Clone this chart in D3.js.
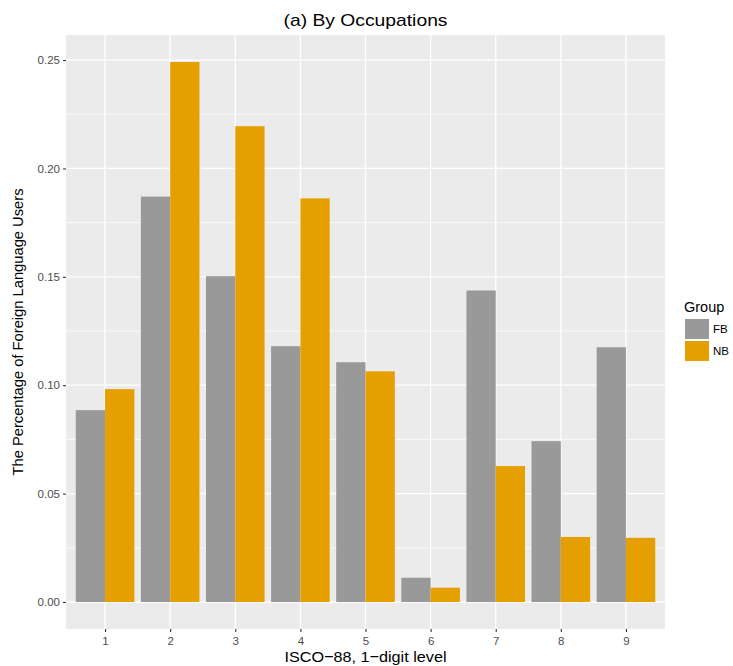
<!DOCTYPE html>
<html>
<head>
<meta charset="utf-8">
<script src="https://cdn.jsdelivr.net/npm/d3@7"></script>
<style>
  html, body { margin: 0; padding: 0; background: #ffffff; }
  svg { display: block; font-family: "Liberation Sans", Arial, Helvetica, sans-serif; }
</style>
</head>
<body>
<svg id="chart" width="733" height="666"></svg>
<script>
// Share of foreign language users by ISCO-88 major group
const occupations = ["1", "2", "3", "4", "5", "6", "7", "8", "9"];
const groups = ["FB", "NB"];
const fbValues = [0.0885, 0.187, 0.1503, 0.118, 0.1106, 0.0112, 0.1437, 0.0742, 0.1175];
const nbValues = [0.0982, 0.2491, 0.2195, 0.1862, 0.1064, 0.0066, 0.0627, 0.0300, 0.0296];
const yTicks = [0, 0.05, 0.10, 0.15, 0.20, 0.25];
const yMinor = [0.025, 0.075, 0.125, 0.175, 0.225];
const groupColors = ["#999999", "#E69F00"];

const svg = d3.select("#chart");
const panel = { left: 66, right: 665, top: 35, bottom: 629 };

const rows = occupations.map((occ, i) => ({ occ, values: [fbValues[i], nbValues[i]] }));

// discrete x scale with 0.6 unit padding on each side
const x = d3.scalePoint()
  .domain(occupations)
  .range([panel.left, panel.right])
  .padding(0.6);
const step = x.step();
const barGroupWidth = step * 0.9;
const xInner = d3.scaleBand().domain(groups).range([-barGroupWidth / 2, barGroupWidth / 2]).padding(0);

const yMax = d3.max(nbValues.concat(fbValues));
const pad = yMax * 0.05;
const y = d3.scaleLinear().domain([-pad, yMax + pad]).range([panel.bottom, panel.top]);

const color = d3.scaleOrdinal().domain(groups).range(groupColors);

// panel background
svg.append("rect")
  .attr("x", panel.left).attr("y", panel.top)
  .attr("width", panel.right - panel.left).attr("height", panel.bottom - panel.top)
  .attr("fill", "#EBEBEB");

// minor grid
svg.append("g").selectAll("line").data(yMinor).join("line")
  .attr("x1", panel.left).attr("x2", panel.right)
  .attr("y1", d => y(d)).attr("y2", d => y(d))
  .attr("stroke", "#ffffff").attr("stroke-width", 0.7);

// major grid
svg.append("g").selectAll("line").data(yTicks).join("line")
  .attr("x1", panel.left).attr("x2", panel.right)
  .attr("y1", d => y(d)).attr("y2", d => y(d))
  .attr("stroke", "#ffffff").attr("stroke-width", 1.3);

svg.append("g").selectAll("line").data(occupations).join("line")
  .attr("x1", d => x(d)).attr("x2", d => x(d))
  .attr("y1", panel.top).attr("y2", panel.bottom)
  .attr("stroke", "#ffffff").attr("stroke-width", 1.3);

// bars
svg.append("g").selectAll("g").data(rows).join("g")
  .attr("transform", d => `translate(${x(d.occ)},0)`)
  .selectAll("rect")
  .data(d => groups.map((g, j) => ({ g, v: d.values[j] })))
  .join("rect")
  .attr("x", d => xInner(d.g))
  .attr("width", xInner.bandwidth())
  .attr("y", d => y(d.v))
  .attr("height", d => y(0) - y(d.v))
  .attr("fill", d => color(d.g));

// axes
const yAxis = d3.axisLeft(y).tickValues(yTicks).tickFormat(d3.format(".2f")).tickSize(3).tickPadding(3);
const gy = svg.append("g").attr("transform", `translate(${panel.left},0)`).call(yAxis);
gy.select(".domain").remove();
gy.selectAll(".tick line").attr("stroke", "#333333").attr("stroke-width", 1.1);
gy.selectAll(".tick text").attr("fill", "#4D4D4D").attr("font-size", 11.5)
  .attr("font-family", "Liberation Sans, Arial, sans-serif");

const xAxis = d3.axisBottom(x).tickSize(3).tickPadding(5);
const gx = svg.append("g").attr("transform", `translate(0,${panel.bottom})`).call(xAxis);
gx.select(".domain").remove();
gx.selectAll(".tick line").attr("stroke", "#333333").attr("stroke-width", 1.1);
gx.selectAll(".tick text").attr("fill", "#4D4D4D").attr("font-size", 11.5)
  .attr("font-family", "Liberation Sans, Arial, sans-serif");

// titles
svg.append("text")
  .attr("x", (panel.left + panel.right) / 2).attr("y", 26)
  .attr("text-anchor", "middle").attr("font-size", 17).attr("fill", "#000")
  .attr("textLength", 164).attr("lengthAdjust", "spacingAndGlyphs")
  .text("(a) By Occupations");

svg.append("text")
  .attr("x", (panel.left + panel.right) / 2).attr("y", 662)
  .attr("text-anchor", "middle").attr("font-size", 15.5).attr("fill", "#000")
  .attr("textLength", 162).attr("lengthAdjust", "spacingAndGlyphs")
  .text("ISCO\u221288, 1\u2212digit level");

svg.append("text")
  .attr("transform", `translate(23,${(panel.top + panel.bottom) / 2}) rotate(-90)`)
  .attr("text-anchor", "middle").attr("font-size", 14.5).attr("fill", "#000")
  .attr("textLength", 287).attr("lengthAdjust", "spacingAndGlyphs")
  .text("The Percentage of Foreign Language Users");

// legend
const legend = svg.append("g").attr("transform", "translate(684,0)");
legend.append("text").attr("x", 0).attr("y", 312)
  .attr("font-size", 14.5).attr("fill", "#000").text("Group");
const keys = legend.selectAll("g.key").data(groups).join("g").attr("class", "key")
  .attr("transform", (d, i) => `translate(0,${319 + i * 22})`);
keys.append("rect").attr("x", 1).attr("y", 0).attr("width", 24).attr("height", 20)
  .attr("fill", d => color(d));
keys.append("text").attr("x", 29).attr("y", 10).attr("dy", "0.36em")
  .attr("font-size", 11.5).attr("fill", "#000").text(d => d);
</script>
</body>
</html>
